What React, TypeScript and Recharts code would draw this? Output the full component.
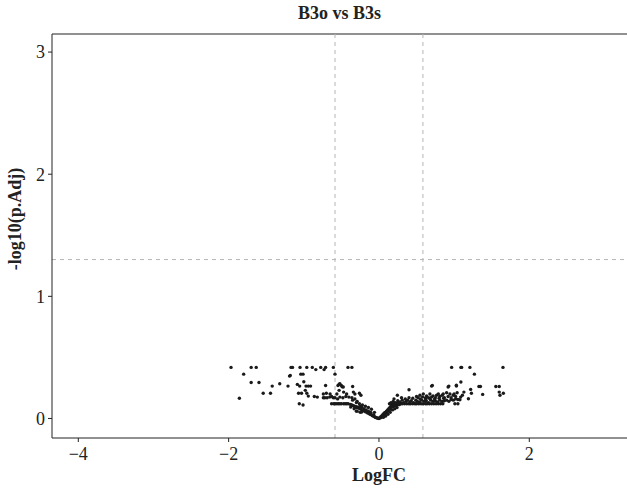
import { ReferenceLine, Scatter, ScatterChart, XAxis, YAxis } from "recharts";

// [logFC, -log10(p.adj)]
const leftTail: [number, number][] = [
  [-1.968, 0.418], [-1.857, 0.166], [-1.8, 0.363], [-1.7, 0.418], [-1.633, 0.418],
  [-1.7, 0.295], [-1.596, 0.295], [-1.54, 0.207], [-1.443, 0.207], [-1.42, 0.265],
  [-1.32, 0.284], [-1.21, 0.265], [-1.19, 0.347], [-1.17, 0.418], [-1.15, 0.418],
  [-1.05, 0.418], [-1.04, 0.363], [-1.01, 0.363], [-0.96, 0.418], [-0.887, 0.418],
  [-0.84, 0.4], [-0.775, 0.418], [-0.73, 0.4], [-0.71, 0.418], [-0.607, 0.418],
  [-0.585, 0.363], [-0.412, 0.418], [-0.36, 0.418], [-1.18, 0.352], [-1.086, 0.279],
  [-1.055, 0.265], [-1.0, 0.3], [-0.97, 0.265], [-0.94, 0.265], [-0.91, 0.265],
  [-0.98, 0.23], [-0.96, 0.207], [-1.07, 0.207], [-1.03, 0.207], [-1.06, 0.12],
  [-1.01, 0.11], [-0.94, 0.183], [-0.86, 0.18], [-0.82, 0.175], [-0.71, 0.27],
  [-0.74, 0.2], [-0.7, 0.207], [-0.65, 0.2], [-0.63, 0.18], [-0.607, 0.17],
  [-0.585, 0.17], [-0.74, 0.17], [-0.72, 0.17], [-0.69, 0.17], [-0.655, 0.175],
];

const leftCore: [number, number][] = [
  [-0.63, 0.12], [-0.6, 0.12], [-0.585, 0.12], [-0.56, 0.12], [-0.54, 0.12],
  [-0.52, 0.12], [-0.5, 0.12], [-0.47, 0.12], [-0.45, 0.12], [-0.43, 0.12],
  [-0.41, 0.12], [-0.545, 0.27], [-0.53, 0.28], [-0.52, 0.285], [-0.5, 0.27],
  [-0.49, 0.26], [-0.475, 0.257], [-0.53, 0.23], [-0.47, 0.216], [-0.43, 0.2],
  [-0.35, 0.262], [-0.34, 0.216], [-0.32, 0.2], [-0.26, 0.207], [-0.24, 0.19],
  [-0.4, 0.175], [-0.36, 0.17], [-0.32, 0.16], [-0.376, 0.093], [-0.33, 0.08],
  [-0.27, 0.088], [-0.25, 0.098], [-0.23, 0.093], [-0.29, 0.06], [-0.23, 0.052],
  [-0.44, 0.18], [-0.48, 0.17], [-0.52, 0.175], [-0.56, 0.2], [-0.55, 0.16],
  [-0.38, 0.115], [-0.36, 0.11], [-0.34, 0.105], [-0.33, 0.1], [-0.31, 0.098],
  [-0.3, 0.09], [-0.28, 0.094], [-0.27, 0.085], [-0.26, 0.09], [-0.25, 0.08],
  [-0.24, 0.075], [-0.22, 0.07], [-0.21, 0.065], [-0.2, 0.08], [-0.19, 0.06],
  [-0.18, 0.055], [-0.17, 0.07], [-0.16, 0.05], [-0.15, 0.045], [-0.14, 0.06],
  [-0.13, 0.04], [-0.12, 0.035], [-0.11, 0.05], [-0.1, 0.03], [-0.09, 0.025],
  [-0.08, 0.02], [-0.07, 0.03], [-0.06, 0.015], [-0.05, 0.01], [-0.04, 0.008],
  [-0.03, 0.005], [-0.02, 0.003], [-0.01, 0.002], [0, 0], [-0.3, 0.13],
  [-0.26, 0.12], [-0.22, 0.11], [-0.18, 0.1], [-0.14, 0.09], [-0.1, 0.075],
  [-0.06, 0.05], [-0.35, 0.15], [-0.29, 0.14], [-0.25, 0.05], [-0.3, 0.06],
];

const rightCore: [number, number][] = [
  [0.01, 0.004], [0.02, 0.012], [0.03, 0.008], [0.035, 0.02], [0.045, 0.015],
  [0.05, 0.03], [0.06, 0.025], [0.065, 0.04], [0.075, 0.035], [0.08, 0.05],
  [0.09, 0.045], [0.1, 0.06], [0.105, 0.052], [0.115, 0.07], [0.12, 0.062],
  [0.13, 0.08], [0.14, 0.072], [0.145, 0.09], [0.155, 0.085], [0.16, 0.1],
  [0.17, 0.093], [0.18, 0.105], [0.19, 0.098], [0.2, 0.11], [0.21, 0.104],
  [0.22, 0.115], [0.235, 0.108], [0.25, 0.12], [0.27, 0.113], [0.29, 0.125],
  [0.06, 0.01], [0.09, 0.02], [0.12, 0.035], [0.15, 0.05], [0.18, 0.07],
  [0.21, 0.08], [0.24, 0.09],
  [0.14, 0.12], [0.17, 0.12], [0.2, 0.12], [0.23, 0.12], [0.26, 0.12],
  [0.29, 0.12], [0.31, 0.12], [0.34, 0.12], [0.37, 0.12], [0.4, 0.12],
  [0.42, 0.12], [0.45, 0.12], [0.48, 0.12], [0.5, 0.12], [0.53, 0.12],
  [0.56, 0.12], [0.59, 0.12], [0.62, 0.12], [0.64, 0.12], [0.67, 0.12],
  [0.7, 0.12], [0.73, 0.12], [0.76, 0.12], [0.79, 0.12], [0.82, 0.12], [0.85, 0.12],
  [0.16, 0.13], [0.19, 0.14], [0.22, 0.13], [0.25, 0.145], [0.28, 0.135],
  [0.31, 0.15], [0.33, 0.13], [0.36, 0.14], [0.38, 0.15], [0.41, 0.135],
  [0.43, 0.145], [0.46, 0.13], [0.49, 0.15], [0.51, 0.14], [0.54, 0.135],
  [0.57, 0.15], [0.6, 0.14], [0.63, 0.145], [0.66, 0.13], [0.69, 0.15],
  [0.72, 0.14], [0.75, 0.145], [0.78, 0.135], [0.81, 0.15], [0.84, 0.14],
  [0.87, 0.145], [0.9, 0.15], [0.93, 0.14], [0.96, 0.155], [0.99, 0.15],
  [1.02, 0.16], [1.05, 0.155],
  [0.2, 0.16], [0.245, 0.19], [0.3, 0.17], [0.35, 0.16], [0.4, 0.17],
  [0.45, 0.165], [0.5, 0.18], [0.52, 0.17], [0.545, 0.19], [0.58, 0.175],
  [0.59, 0.2], [0.62, 0.17], [0.634, 0.185], [0.66, 0.17], [0.678, 0.2],
  [0.7, 0.175], [0.72, 0.185], [0.75, 0.17], [0.767, 0.19], [0.79, 0.2],
  [0.81, 0.18], [0.84, 0.19], [0.855, 0.2], [0.87, 0.17], [0.9, 0.21],
  [0.92, 0.18], [0.944, 0.2], [0.96, 0.17], [0.988, 0.19], [1.0, 0.2],
  [1.02, 0.18], [1.04, 0.21], [0.55, 0.16], [0.62, 0.16], [0.68, 0.16],
  [0.74, 0.16], [0.8, 0.165], [0.86, 0.165],
];

const rightTail: [number, number][] = [
  [0.4, 0.235], [0.7, 0.265], [0.71, 0.27], [0.93, 0.265], [0.92, 0.257],
  [1.03, 0.265], [1.03, 0.272], [0.967, 0.418], [1.09, 0.418], [1.1, 0.418],
  [1.21, 0.418], [1.65, 0.418], [1.27, 0.363], [1.09, 0.298], [1.33, 0.262],
  [1.35, 0.262], [1.555, 0.262], [1.6, 0.262], [1.6, 0.216], [1.655, 0.207],
  [1.61, 0.19], [1.38, 0.197], [1.22, 0.238], [1.23, 0.207], [1.19, 0.161],
  [1.13, 0.216], [1.11, 0.19], [1.087, 0.175], [1.077, 0.153], [1.01, 0.12],
  [1.05, 0.12],
];

const points = [...leftTail, ...leftCore, ...rightCore, ...rightTail].map(
  ([logFC, negLogP]) => ({ logFC, negLogP })
);

const fcCutoff = 0.585;
const pCutoff = 1.301;
const xTicks = [-4, -2, 0, 2];
const yTicks = [0, 1, 2, 3];
const yTop = 3.148;

const FONT = '"Liberation Serif", "DejaVu Serif", serif';
const minus = (v: number) => String(v).replace("-", "\u2212");

function Dot(props: any) {
  const { cx, cy } = props;
  return <circle cx={cx} cy={cy} r={1.7} fill="#1a1a1a" />;
}

export default function App() {
  const tickStyle = { fill: "#222", fontSize: 18, fontFamily: FONT };
  return (
    <div style={{ position: "absolute", left: 0, top: 0, width: 627, height: 488, background: "#fff" }}>
      <ScatterChart width={627} height={488} margin={{ top: 34, right: 0, bottom: 0, left: 0 }}>
        <XAxis
          type="number"
          dataKey="logFC"
          domain={[-4.35, 3.3]}
          ticks={xTicks}
          allowDataOverflow
          tickFormatter={minus}
          height={50}
          tickSize={4}
          tickMargin={5}
          stroke="#222"
          tick={tickStyle}
        />
        <YAxis
          type="number"
          dataKey="negLogP"
          domain={[-0.16, yTop]}
          ticks={yTicks}
          allowDataOverflow
          width={52}
          tickSize={4}
          tickMargin={3}
          stroke="#222"
          tick={tickStyle}
        />
        <ReferenceLine y={yTop} stroke="#222" strokeWidth={1.2} />
        <ReferenceLine x={-fcCutoff} stroke="#b5b5b5" strokeDasharray="4 4" />
        <ReferenceLine x={fcCutoff} stroke="#b5b5b5" strokeDasharray="4 4" />
        <ReferenceLine y={pCutoff} stroke="#b5b5b5" strokeDasharray="4 4" />
        <Scatter data={points} shape={<Dot />} isAnimationActive={false} />
      </ScatterChart>
      <svg width={627} height={488} style={{ position: "absolute", left: 0, top: 0, pointerEvents: "none" }}>
        <text x={339.5} y={19} textAnchor="middle" fontFamily={FONT} fontWeight="bold" fontSize={18} fill="#222">
          B3o vs B3s
        </text>
        <text x={379} y={481} textAnchor="middle" fontFamily={FONT} fontWeight="bold" fontSize={18} fill="#222">
          LogFC
        </text>
        <text
          x={0}
          y={0}
          transform="translate(21,219) rotate(-90)"
          textAnchor="middle"
          fontFamily={FONT}
          fontWeight="bold"
          fontSize={18}
          fill="#222"
        >
          -log10(p.Adj)
        </text>
      </svg>
    </div>
  );
}
